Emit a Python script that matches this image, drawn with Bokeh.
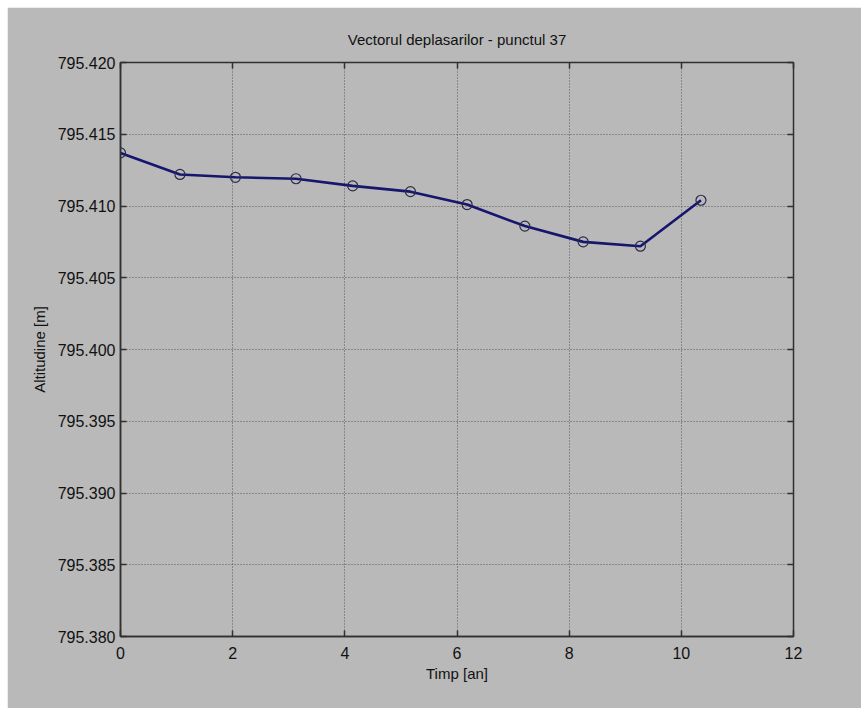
from bokeh.plotting import figure
from bokeh.models import LinearAxis, FixedTicker, PrintfTickFormatter, Range1d, CustomJSTickFormatter
from bokeh.embed import file_html
from bokeh.resources import INLINE

# data
time_years = [0.0, 1.06, 2.05, 3.13, 4.14, 5.17, 6.18, 7.21, 8.25, 9.27, 10.35]
altitude_m = [795.4137, 795.4122, 795.4120, 795.4119, 795.4114, 795.4110,
              795.4101, 795.4086, 795.4075, 795.4072, 795.4104]
x_ticks = [0, 2, 4, 6, 8, 10, 12]
y_ticks = [795.380, 795.385, 795.390, 795.395, 795.400, 795.405, 795.410, 795.415, 795.420]

BG = "#b9b9b9"
FONT = "Liberation Sans"

p = figure(width=854, height=701, output_backend="svg", toolbar_location=None,
           x_range=Range1d(0, 12), y_range=Range1d(795.380, 795.420),
           title="Vectorul deplasarilor - punctul 37",
           min_border_left=113, min_border_right=68, min_border_top=55, min_border_bottom=72,
           margin=(7, 0, 0, 7))
p.background_fill_color = BG
p.border_fill_color = BG
p.outline_line_color = "#303030"
p.outline_line_width = 1.5

p.title.align = "center"
p.title.text_font = FONT
p.title.text_font_size = "15px"
p.title.text_font_style = "normal"
p.title.text_color = "#111111"
p.title.standoff = 29

for ax in (p.xaxis[0], p.yaxis[0]):
    ax.axis_line_color = "#303030"
    ax.axis_line_width = 1.5
    ax.major_tick_in = 6
    ax.major_tick_out = 0
    ax.major_tick_line_color = "#303030"
    ax.major_tick_line_width = 1.5
    ax.minor_tick_line_color = None
    ax.major_label_text_font = FONT
    ax.major_label_text_font_size = "16px"
    ax.major_label_text_color = "#111111"
    ax.axis_label_text_font = FONT
    ax.axis_label_text_font_size = "15px"
    ax.axis_label_text_font_style = "normal"
    ax.axis_label_text_color = "#111111"

p.xaxis.ticker = FixedTicker(ticks=x_ticks)
p.yaxis.ticker = FixedTicker(ticks=y_ticks)
p.yaxis.formatter = PrintfTickFormatter(format="%.3f")
p.xaxis.axis_label = "Timp [an]"
p.yaxis.axis_label = "Altitudine [m]"
p.xaxis.major_label_standoff = 10
p.yaxis.major_label_standoff = 5
p.xaxis.axis_label_standoff = 3
p.yaxis.axis_label_standoff = 7

# box ticks on right and top (no labels)
for loc, tick in (("right", y_ticks), ("above", x_ticks)):
    ax = LinearAxis(ticker=FixedTicker(ticks=tick),
                    formatter=CustomJSTickFormatter(code="return ''"))
    ax.axis_line_color = None
    ax.major_tick_in = 6
    ax.major_tick_out = 0
    ax.major_tick_line_color = "#303030"
    ax.major_tick_line_width = 1.5
    ax.minor_tick_line_color = None
    ax.major_label_text_font_size = "1px"
    ax.major_label_standoff = 0
    p.add_layout(ax, loc)

for g in (p.xgrid[0], p.ygrid[0]):
    g.grid_line_color = "#555555"
    g.grid_line_dash = "1 2"
    g.grid_line_width = 1

p.xgrid.ticker = FixedTicker(ticks=x_ticks)
p.ygrid.ticker = FixedTicker(ticks=y_ticks)

p.line(time_years, altitude_m, line_color="#16166e", line_width=2.6)
p.scatter(time_years, altitude_m, marker="circle", size=10, fill_color=None,
          line_color="#2a2a4a", line_width=1.2)

open("out.html", "w").write(file_html(p, INLINE))
